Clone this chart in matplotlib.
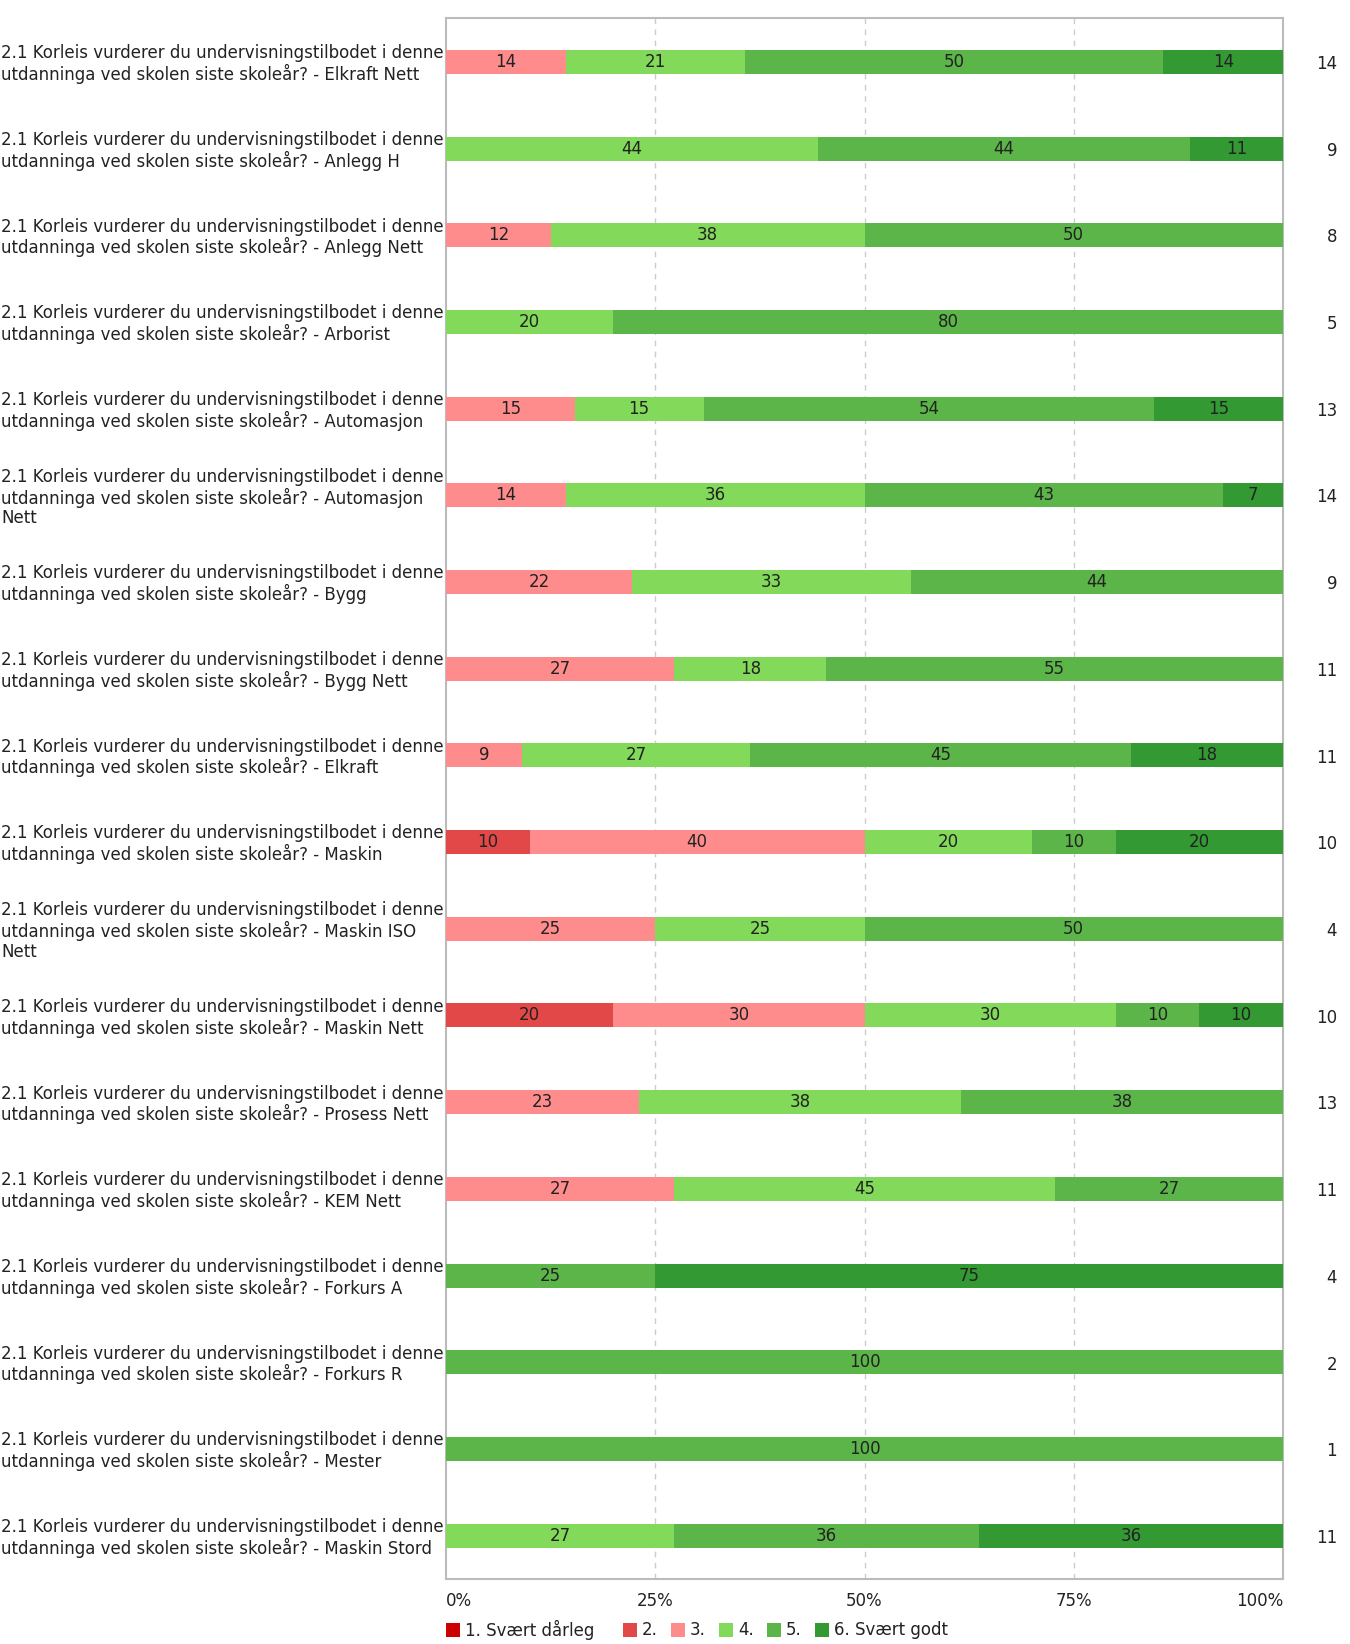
import numpy as np
import matplotlib
matplotlib.use('Agg')
import matplotlib.pyplot as plt
from matplotlib.patches import Rectangle

plt.rcParams['font.family'] = ['DejaVu Sans']

# Survey data: number of answers per category (1..6) for each programme
programmes = ['Elkraft Nett', 'Anlegg H', 'Anlegg Nett', 'Arborist', 'Automasjon',
              'Automasjon\nNett', 'Bygg', 'Bygg Nett', 'Elkraft', 'Maskin',
              'Maskin ISO\nNett', 'Maskin Nett', 'Prosess Nett', 'KEM Nett',
              'Forkurs A', 'Forkurs R', 'Mester', 'Maskin Stord']
counts = [
    [0, 0, 2, 3, 7, 2],
    [0, 0, 0, 4, 4, 1],
    [0, 0, 1, 3, 4, 0],
    [0, 0, 0, 1, 4, 0],
    [0, 0, 2, 2, 7, 2],
    [0, 0, 2, 5, 6, 1],
    [0, 0, 2, 3, 4, 0],
    [0, 0, 3, 2, 6, 0],
    [0, 0, 1, 3, 5, 2],
    [0, 1, 4, 2, 1, 2],
    [0, 0, 1, 1, 2, 0],
    [0, 2, 3, 3, 1, 1],
    [0, 0, 3, 5, 5, 0],
    [0, 0, 3, 5, 3, 0],
    [0, 0, 0, 0, 1, 3],
    [0, 0, 0, 0, 2, 0],
    [0, 0, 0, 0, 1, 0],
    [0, 0, 0, 3, 4, 4],
]
categories = ['1. Svært dårleg', '2.', '3.', '4.', '5.', '6. Svært godt']
colors = ['#cc0000', '#e34848', '#ff8c8c', '#82d95a', '#5bb548', '#339933']
question = '2.1 Korleis vurderer du undervisningstilbodet i denne\nutdanninga ved skolen siste skoleår? - '
x_ticks = [0, 25, 50, 75, 100]

counts = np.array(counts, dtype=float)
n = counts.sum(axis=1)
pct = counts / n[:, None] * 100

W, H = 1350, 1644
fig = plt.figure(figsize=(W / 100, H / 100), dpi=100)
ax = fig.add_axes([446 / W, 65 / H, 837 / W, 1560.5 / H])

fs = 12
ypos = np.arange(len(programmes))
left = np.zeros(len(programmes))
for j in range(len(categories)):
    ax.barh(ypos, pct[:, j], left=left, height=0.277, color=colors[j],
            edgecolor='none', zorder=3)
    for i in range(len(programmes)):
        if pct[i, j] > 0:
            ax.text(left[i] + pct[i, j] / 2, ypos[i], '%d' % round(pct[i, j]),
                    ha='center', va='center', fontsize=fs, color='#222222', zorder=4)
    left += pct[:, j]

ax.set_xlim(0, 100)
ax.set_ylim(len(programmes) - 0.5, -0.5)
ax.set_yticks([])
ax.set_xticks(x_ticks)
ax.set_xticklabels([])
ax.tick_params(length=0)
for x in x_ticks[1:-1]:
    ax.axvline(x, color='#cccccc', linestyle=(0, (4, 4)), linewidth=1, zorder=1)
for s in ax.spines.values():
    s.set_color('#bbbbbb')
    s.set_linewidth(1.5)

# tick labels
for x in x_ticks:
    ha = 'left' if x == 0 else ('right' if x == 100 else 'center')
    ax.text(x, len(programmes) - 0.5 + 22 / 86.7, '%d%%' % x, ha=ha, va='center',
            fontsize=fs, color='#222222')

# question labels and n
for i, p in enumerate(programmes):
    y_fig = 1 - (64 + i * 86.7) / H
    fig.text(1 / W, y_fig, question + p, ha='left', va='center', fontsize=fs,
             color='#222222', linespacing=1.1)
    fig.text(1337 / W, y_fig, '%d' % n[i], ha='right', va='center', fontsize=fs,
             color='#222222')

# legend
leg_x = [446, 623, 671, 719, 767, 815]
ly = 1630
for j, cat in enumerate(categories):
    fig.patches.append(Rectangle((leg_x[j] / W, 1 - (ly + 7) / H), 14 / W, 14 / H,
                                 transform=fig.transFigure, facecolor=colors[j],
                                 edgecolor='none'))
    fig.text((leg_x[j] + 19) / W, 1 - ly / H, cat, ha='left', va='center',
             fontsize=fs, color='#222222')

fig.savefig('out.png', dpi=100)
